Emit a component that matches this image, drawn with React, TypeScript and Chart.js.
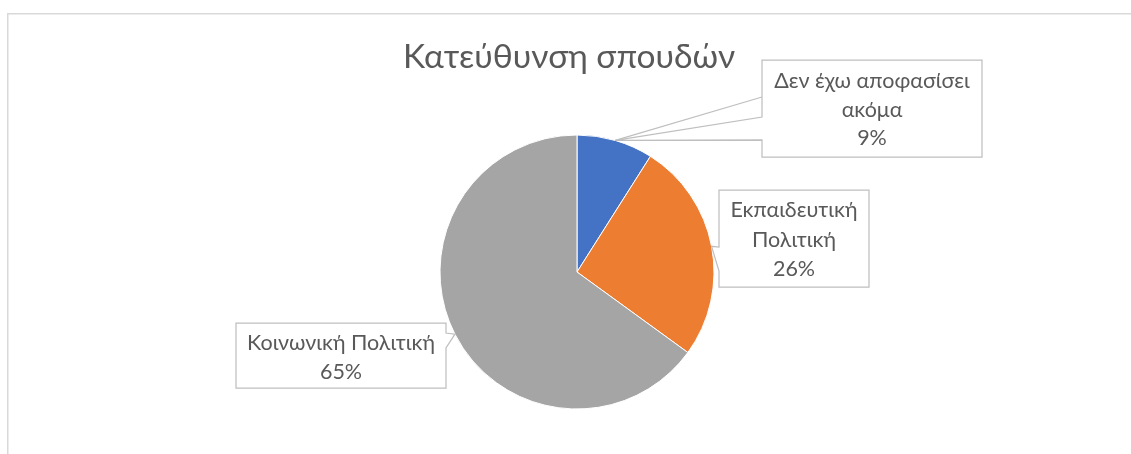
import React, { useEffect, useRef } from "react";
import { Chart, registerables } from "chart.js";

Chart.register(...registerables);

// ---- data ----
const TITLE = "Κατεύθυνση σπουδών";
const categories = ["Δεν έχω αποφασίσει ακόμα", "Εκπαιδευτική Πολιτική", "Κοινωνική Πολιτική"];
const labelLines = [["Δεν έχω αποφασίσει", "ακόμα"], ["Εκπαιδευτική", "Πολιτική"], ["Κοινωνική Πολιτική"]];
const values = [9, 26, 65];
const colors = ["#4472C4", "#ED7D31", "#A5A5A5"];

// ---- layout / style ----
const W = 1131;
const H = 454;
const FONT = "Lato, 'Open Sans', 'Noto Sans', sans-serif";
const TEXT_COLOR = "#595959";
const BOX_COLOR = "#BFBFBF";
type Box = { x: number; y: number; w: number; h: number; side: "left" | "right"; wedge: [number, number]; leader?: number; base: number; lh: number };
const BOXES: Box[] = [
  { x: 762, y: 60, w: 220, h: 97, side: "left", wedge: [117, 140], leader: 97, base: 88, lh: 28.5 },
  { x: 719, y: 190, w: 150, h: 97, side: "left", wedge: [247, 271], base: 217, lh: 29.5 },
  { x: 236, y: 323, w: 210, h: 65, side: "right", wedge: [333, 348], base: 350, lh: 28.5 },
];

const decor = {
  id: "decor",
  beforeDraw(chart: any) {
    const ctx = chart.ctx as CanvasRenderingContext2D;
    ctx.save();
    ctx.fillStyle = "#FFFFFF";
    ctx.fillRect(0, 0, W, H);
    ctx.strokeStyle = "#D9D9D9";
    ctx.lineWidth = 1.5;
    ctx.strokeRect(7.75, 13.75, W + 20, H + 20);
    ctx.restore();
  },
  afterDraw(chart: any) {
    const ctx = chart.ctx as CanvasRenderingContext2D;
    const total = values.reduce((a, b) => a + b, 0);
    ctx.save();
    // title
    ctx.fillStyle = TEXT_COLOR;
    ctx.font = `400 33.5px ${FONT}`;
    ctx.textAlign = "center";
    ctx.textBaseline = "alphabetic";
    ctx.fillText(TITLE, 569, 68);

    const meta = chart.getDatasetMeta(0);
    meta.data.forEach((arc: any, i: number) => {
      const p = arc.getProps(["x", "y", "startAngle", "endAngle", "outerRadius"], true);
      const mid = (p.startAngle + p.endAngle) / 2;
      const tx = p.x + Math.cos(mid) * p.outerRadius;
      const ty = p.y + Math.sin(mid) * p.outerRadius;
      const b = BOXES[i];
      ctx.strokeStyle = BOX_COLOR;
      ctx.lineWidth = 1.25;
      if (b.leader !== undefined) {
        ctx.beginPath();
        ctx.moveTo(tx, ty);
        ctx.lineTo(b.side === "left" ? b.x : b.x + b.w, b.leader);
        ctx.stroke();
      }
      ctx.beginPath();
      if (b.side === "left") {
        ctx.moveTo(b.x, b.y);
        ctx.lineTo(b.x + b.w, b.y);
        ctx.lineTo(b.x + b.w, b.y + b.h);
        ctx.lineTo(b.x, b.y + b.h);
        ctx.lineTo(b.x, b.wedge[1]);
        ctx.lineTo(tx, ty);
        ctx.lineTo(b.x, b.wedge[0]);
      } else {
        ctx.moveTo(b.x, b.y);
        ctx.lineTo(b.x + b.w, b.y);
        ctx.lineTo(b.x + b.w, b.wedge[0]);
        ctx.lineTo(tx, ty);
        ctx.lineTo(b.x + b.w, b.wedge[1]);
        ctx.lineTo(b.x + b.w, b.y + b.h);
        ctx.lineTo(b.x, b.y + b.h);
      }
      ctx.closePath();
      ctx.fillStyle = "#FFFFFF";
      ctx.fill();
      ctx.stroke();

      const lines = [...labelLines[i], `${Math.round((values[i] / total) * 100)}%`];
      ctx.fillStyle = TEXT_COLOR;
      ctx.font = `21.5px ${FONT}`;
      ctx.textAlign = "center";
      const cx = b.x + b.w / 2;
      lines.forEach((t, k) => ctx.fillText(t, cx, b.base + k * b.lh));
    });
    ctx.restore();
  },
};

export default function App() {
  const ref = useRef<HTMLCanvasElement>(null);
  useEffect(() => {
    const canvas = ref.current!;
    const chart = new Chart(canvas, {
      type: "pie",
      data: {
        labels: categories,
        datasets: [
          {
            data: values,
            backgroundColor: colors,
            borderColor: "#FFFFFF",
            borderWidth: 1,
            radius: 137,
          } as any,
        ],
      },
      options: {
        responsive: false,
        animation: false,
        devicePixelRatio: 1,
        events: [],
        layout: { padding: { left: 23, right: 0, top: 90, bottom: 0 } },
        plugins: {
          legend: { display: false },
          tooltip: { enabled: false },
          title: { display: false },
        },
      },
      plugins: [decor],
    });
    return () => chart.destroy();
  }, []);
  return (
    <div style={{ position: "absolute", left: 0, top: 0, width: W, height: H, background: "#fff" }}>
      <canvas ref={ref} width={W} height={H} style={{ display: "block", width: W, height: H }} />
    </div>
  );
}
